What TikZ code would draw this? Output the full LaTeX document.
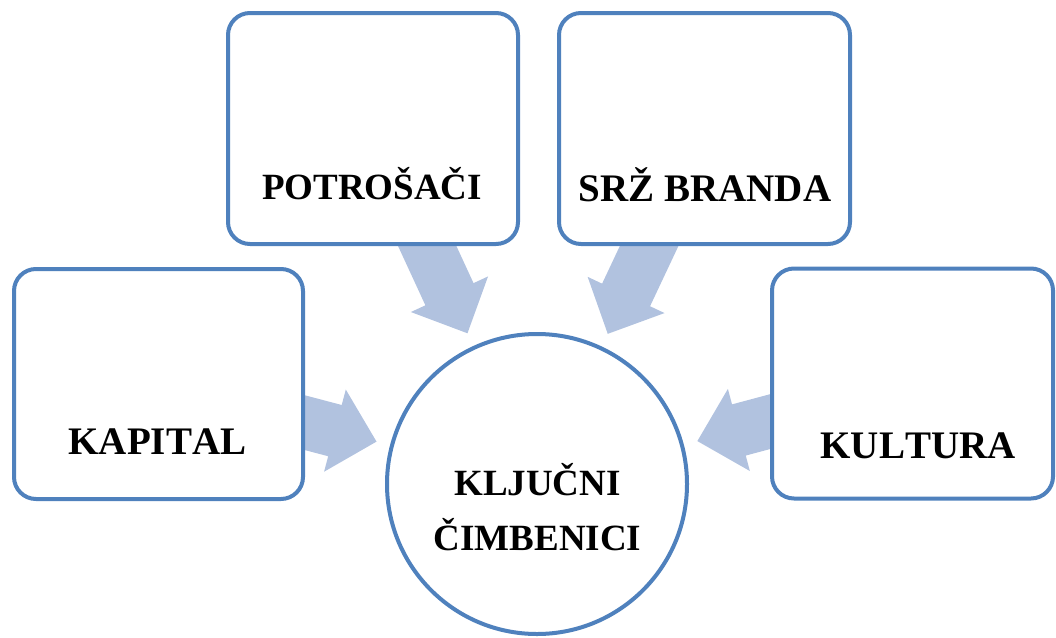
\documentclass[tikz,border=0pt]{standalone}
\usepackage{fontspec}
\setmainfont{Liberation Serif}[Kerning=Off]
\usetikzlibrary{calc}
\definecolor{boxblue}{HTML}{4F81BD}
\definecolor{arrowblue}{HTML}{B1C2DF}
\tikzset{
  box/.style={draw=boxblue, line width=4pt, fill=white, rounded corners=22pt, inner sep=0pt},
  hub/.style={circle, draw=boxblue, line width=4pt, fill=white, inner sep=0pt, minimum size=300pt},
  lbl/.style={font=\bfseries\fontsize{37}{44}\selectfont, anchor=base, inner sep=0pt},
  biglbl/.style={lbl, font=\bfseries\fontsize{39}{46}\selectfont},
  arrowfill/.style={fill=arrowblue}
}
\newcommand{\convarrow}[1]{%
  \path ($(C.center)!166pt!(#1.center)$) coordinate (#1tip)
        ($(C.center)!209pt!(#1.center)$) coordinate (#1hb);
  \fill[arrowfill] ($(#1.center)!26.5pt!90:(#1tip)$) -- ($(#1hb)!26.5pt!90:(#1tip)$)
     -- ($(#1hb)!42.5pt!90:(#1tip)$) -- (#1tip) -- ($(#1hb)!42.5pt!-90:(#1tip)$)
     -- ($(#1hb)!26.5pt!-90:(#1tip)$) -- ($(#1.center)!26.5pt!-90:(#1tip)$) -- cycle;
}
\begin{document}
\begin{tikzpicture}[x=1pt, y=-1pt]
\useasboundingbox (0,0) rectangle (1056,637);
% node positions (invisible placeholders for arrow geometry)
\coordinate (C) at (537,484);
\coordinate (P) at (373,128.5);
\coordinate (S) at (704.5,128.5);
\coordinate (K) at (158.5,384);
\coordinate (U) at (912.5,383.5);
% arrows
\convarrow{P}
\convarrow{S}
\convarrow{K}
\convarrow{U}
% boxes
\node[box, minimum width=290pt, minimum height=231pt] (Pbox) at (P) {};
\node[box, minimum width=291pt, minimum height=231pt] (Sbox) at (S) {};
\node[box, minimum width=289pt, minimum height=230pt] (Kbox) at (K) {};
\node[box, minimum width=281pt, minimum height=230pt] (Ubox) at (U) {};
\node[hub] (Cnode) at (C) {};
% labels
\node[lbl] (Pt) at (372,199) {POTROŠAČI};
\node[biglbl] (St) at (705,201) {SRŽ BRANDA};
\node[biglbl] (Kt) at (157.5,454) {KAPITAL};
\node[biglbl] (Ut) at (918,458) {KULTURA};
\node[lbl] (C1) at (537.5,495.5) {KLJUČNI};
\node[lbl] (C2) at (537.5,550) {ČIMBENICI};
\end{tikzpicture}
\end{document}
